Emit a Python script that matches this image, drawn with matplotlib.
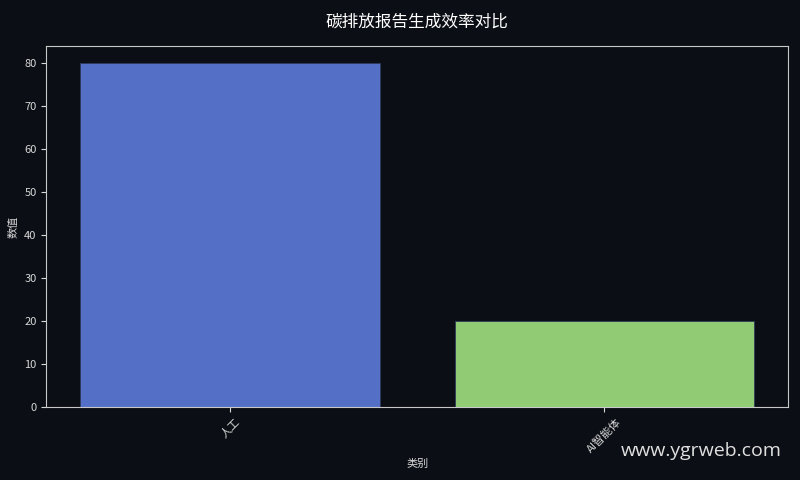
import matplotlib
matplotlib.use('Agg')
import matplotlib.pyplot as plt

plt.rcParams['font.family'] = ['Noto Sans CJK SC', 'DejaVu Sans']

categories = ['人工', 'AI智能体']
values = [80, 20]
colors = ['#5470c6', '#91cc75']

bg = '#0b0e14'
fg = '#d8d8d8'

fig, ax = plt.subplots(figsize=(8, 4.8), dpi=100)
fig.patch.set_facecolor(bg)
ax.set_facecolor(bg)

ax.bar(categories, values, color=colors, width=0.8, edgecolor='#2f3a5c', linewidth=0.6)

ax.set_title('碳排放报告生成效率对比', color='white', fontsize=12, pad=14)
ax.set_xlabel('类别', color=fg, fontsize=8, labelpad=3)
ax.set_ylabel('数值', color=fg, fontsize=8)
ax.tick_params(colors=fg, labelsize=8)
plt.setp(ax.get_xticklabels(), rotation=45)
for s in ax.spines.values():
    s.set_color('#c8c8c8')

fig.text(0.977, 0.042, 'www.ygrweb.com', color='#e0e0e0', fontsize=14,
         ha='right', va='bottom', family=['Open Sans', 'DejaVu Sans'])

plt.subplots_adjust(left=0.058, right=0.985, top=0.904, bottom=0.152)
plt.savefig('out.png', facecolor=bg)
